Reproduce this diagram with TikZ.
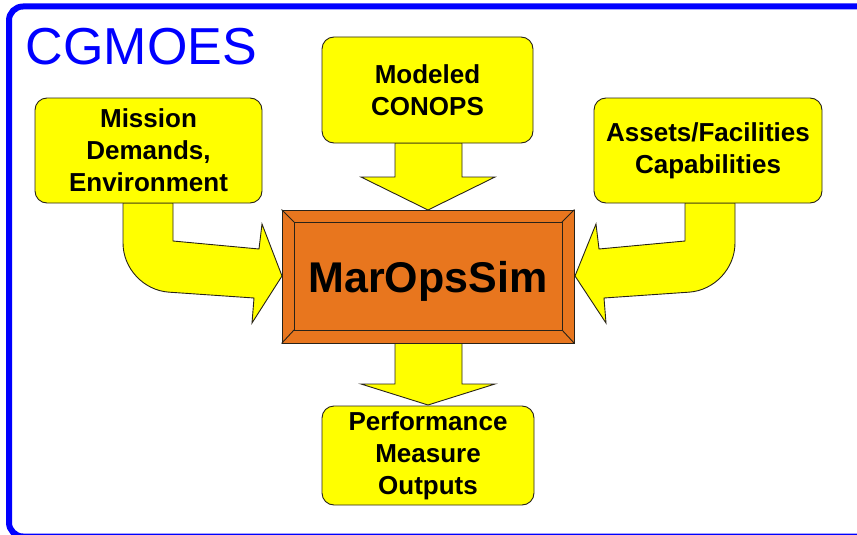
\documentclass[tikz,border=0pt]{standalone}
\usepackage{fontspec}
\setmainfont{Liberation Sans}
\usetikzlibrary{calc}
\definecolor{frameblue}{RGB}{0,0,255}
\definecolor{boxyellow}{RGB}{255,255,0}
\definecolor{simorange}{RGB}{232,118,30}
\definecolor{edge}{RGB}{40,35,25}
\tikzset{
  ybox/.style={draw=edge, line width=0.9pt, fill=boxyellow, rounded corners=12pt,
    align=center, inner sep=0pt, font=\fontsize{26}{32}\selectfont\bfseries},
  blockarrow/.style={draw=edge, line width=0.9pt, fill=boxyellow, line join=miter},
  bevel/.style={draw=edge, line width=0.9pt},
}
\begin{document}
\begin{tikzpicture}[x=1pt,y=-1pt]
\useasboundingbox (0,0) rectangle (857,535);
% frame
\draw[frameblue, line width=6pt, rounded corners=14pt] (9,6.5) rectangle (880,536.5);
\node[anchor=base west, inner sep=0pt, text=frameblue, font=\fontsize{52}{60}\selectfont] (title) at (25.5,65) {CGMOES};

% block arrows
\draw[blockarrow] (173,203) -- (173,241) -- (259,249) -- (262,224) -- (282,276) -- (252,323) -- (254,298)
   [rounded corners=46pt] -- (123,289) [sharp corners] -- (123,203) -- cycle;
\draw[blockarrow] (685,203) -- (685,241) -- (599,249) -- (596,224) -- (575,276) -- (606,323) -- (604,298)
   [rounded corners=46pt] -- (735,289) [sharp corners] -- (735,203) -- cycle;
\draw[blockarrow] (395,143) -- (395,177) -- (361,177) -- (428,210) -- (495,177) -- (462,177) -- (462,143) -- cycle;
\draw[blockarrow] (395,343) -- (395,384) -- (361,384) -- (428,405) -- (495,384) -- (462,384) -- (462,343) -- cycle;

% input / output boxes
\node[ybox, minimum width=227pt, minimum height=105pt] (mission) at (148.5,150.5) {Mission\\Demands,\\Environment};
\node[ybox, minimum width=211pt, minimum height=106pt] (conops) at (427.5,90) {Modeled\\CONOPS};
\node[ybox, minimum width=228pt, minimum height=105pt] (assets) at (708,150.5) {Assets/Facilities\\Capabilities};
\node[ybox, minimum width=212pt, minimum height=99pt] (perf) at (428,455.5) {Performance\\Measure\\Outputs};

% simulator box with bevel
\node[draw=edge, line width=0.9pt, fill=simorange, minimum width=292pt, minimum height=133pt, inner sep=0pt,
      text depth=0pt, font=\fontsize{43}{50}\selectfont\bfseries] (sim) at (428,276.5) {MarOpsSim};
\coordinate (inNW) at ($(sim.north west)+(12.5,12.5)$);
\coordinate (inNE) at ($(sim.north east)+(-12.5,12.5)$);
\coordinate (inSW) at ($(sim.south west)+(12.5,-13.5)$);
\coordinate (inSE) at ($(sim.south east)+(-12.5,-13.5)$);
\draw[bevel] (inNW) -- (inNE) -- (inSE) -- (inSW) -- cycle;
\draw[bevel] (sim.north west) -- (inNW);
\draw[bevel] (sim.north east) -- (inNE);
\draw[bevel] (sim.south west) -- (inSW);
\draw[bevel] (sim.south east) -- (inSE);
\end{tikzpicture}
\end{document}
